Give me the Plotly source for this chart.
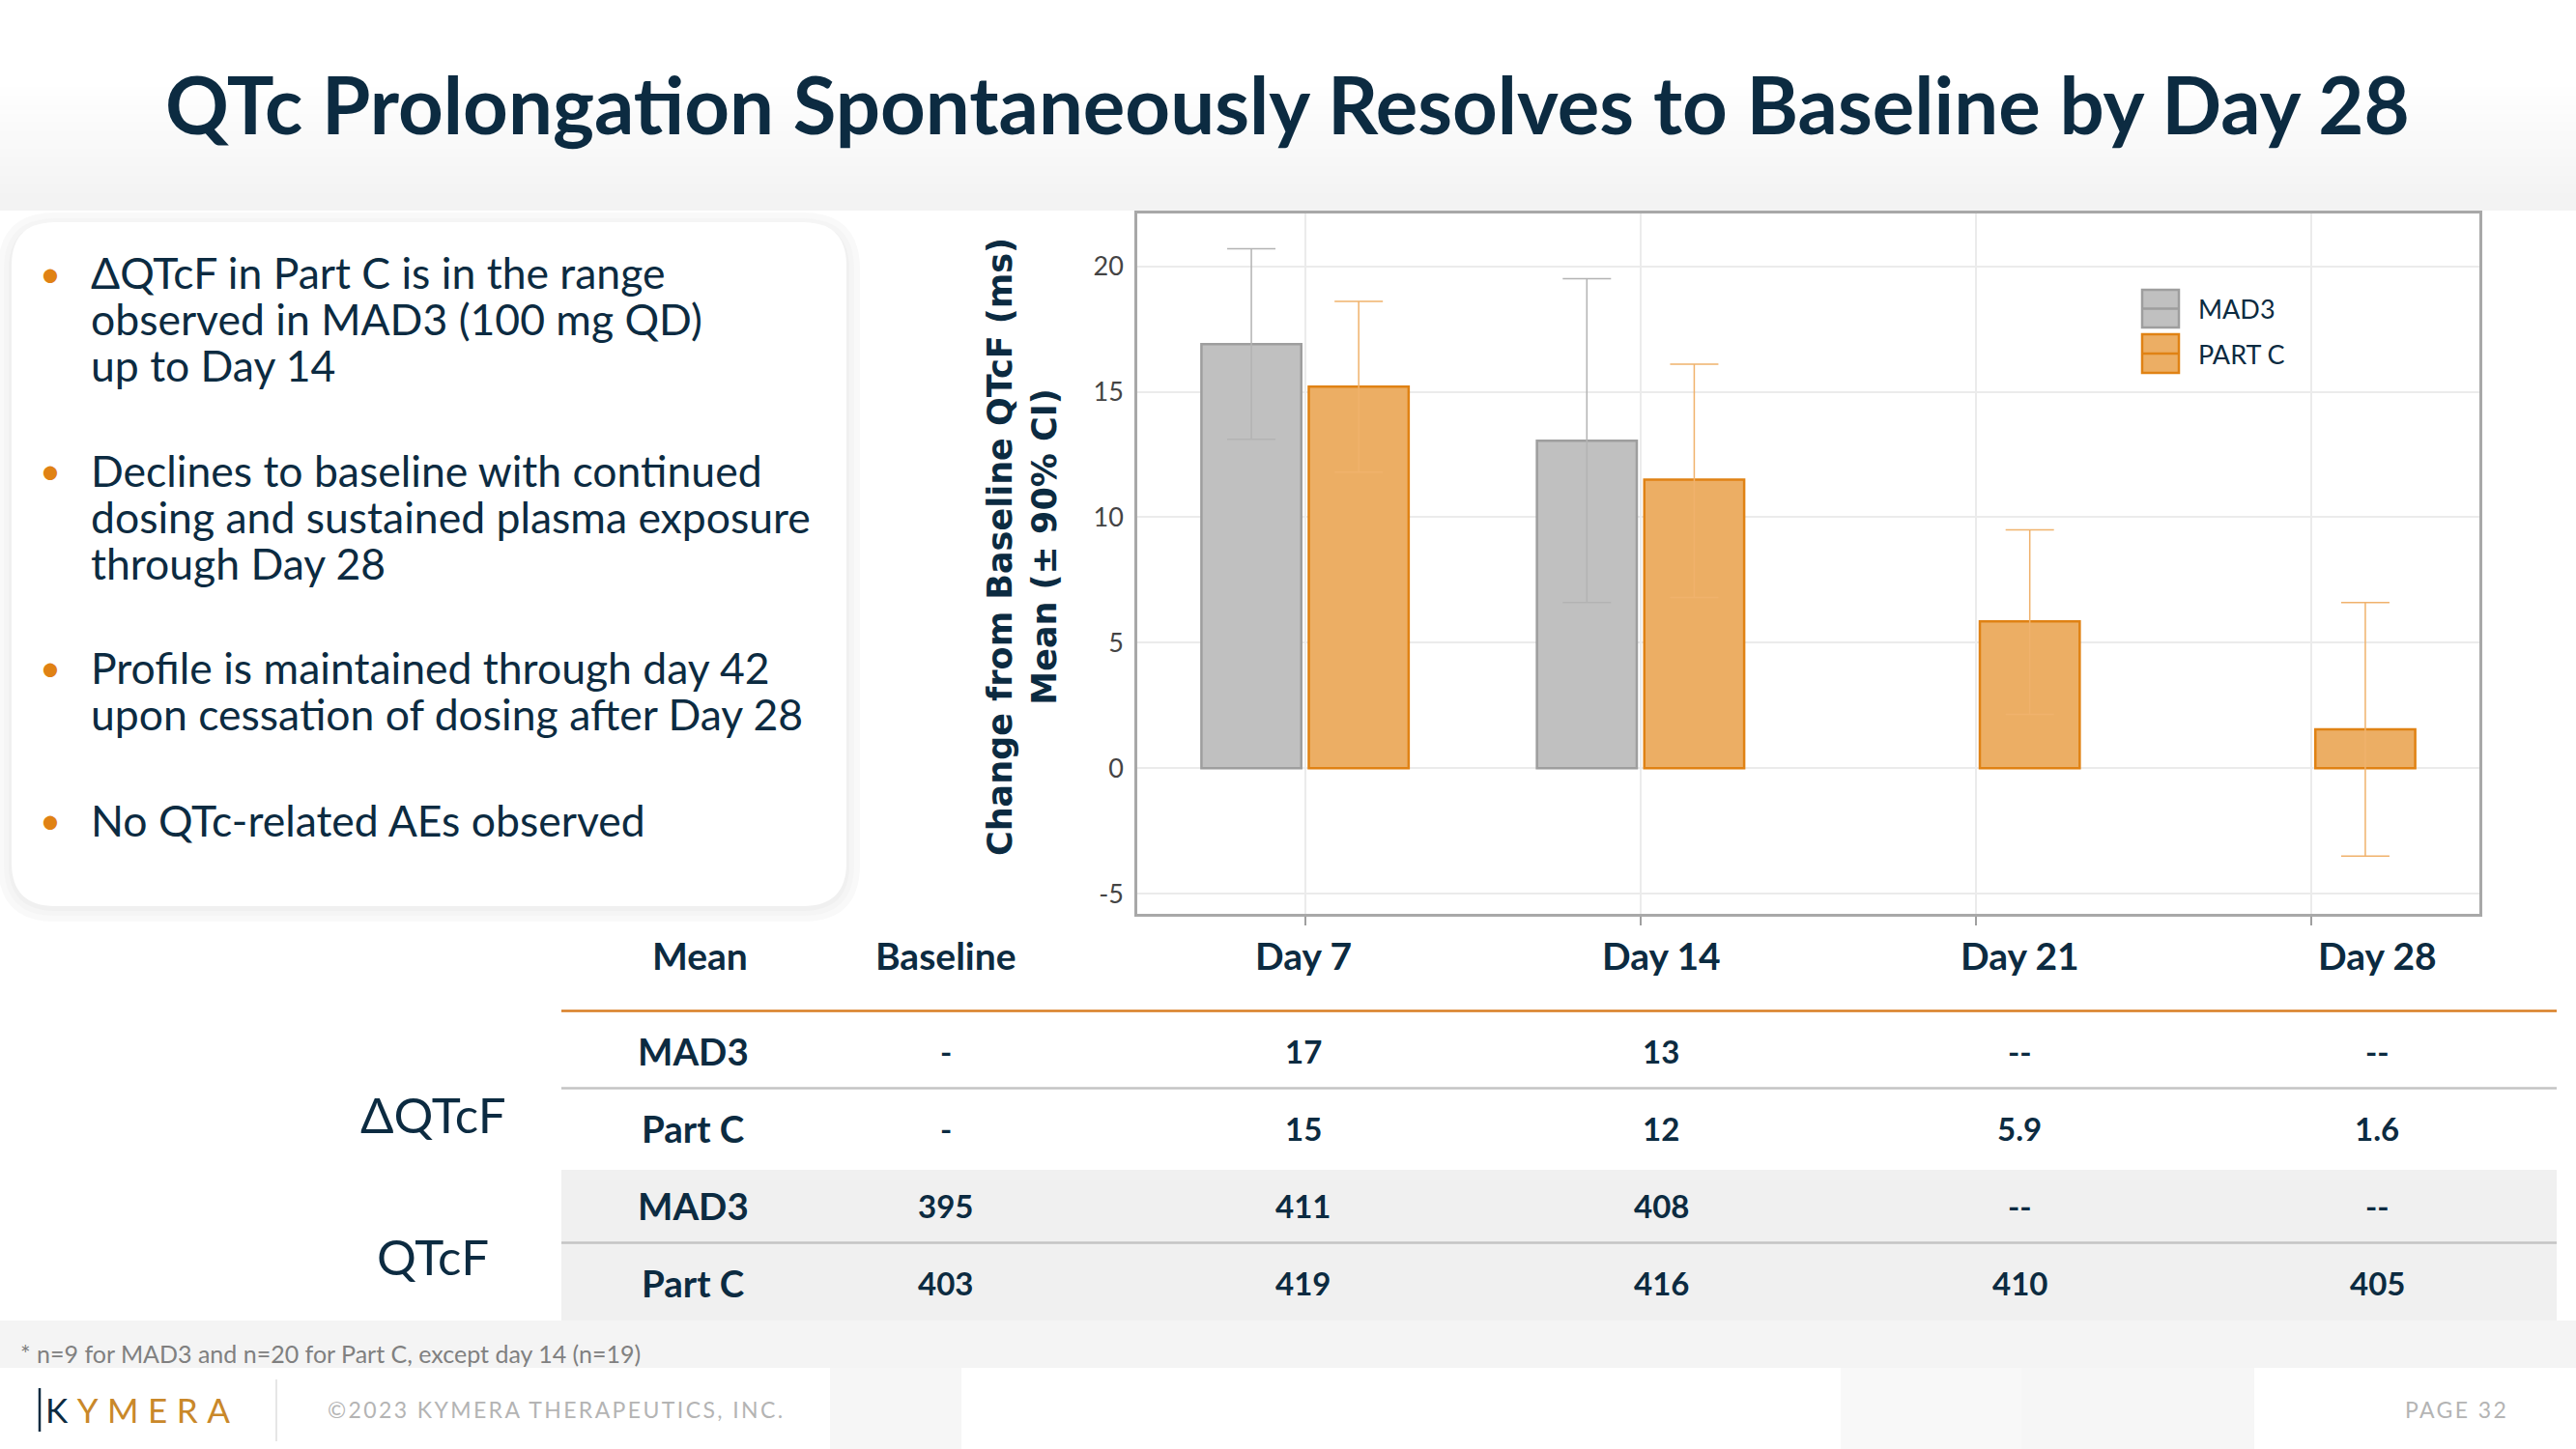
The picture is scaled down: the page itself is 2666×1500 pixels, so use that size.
import plotly.graph_objects as go

W, H = 2666, 1500

# ---------------- data ----------------
days = ["Day 7", "Day 14", "Day 21", "Day 28"]
mad3_mean = [16.9, 13.05, None, None]
mad3_upper = [20.7, 19.5, None, None]
mad3_lower = [13.1, 6.6, None, None]
partc_mean = [15.2, 11.5, 5.85, 1.55]
partc_upper = [18.6, 16.1, 9.5, 6.6]
partc_lower = [11.8, 6.8, 2.15, -3.5]
y_ticks = [-5, 0, 5, 10, 15, 20]
y_tick_labels = ["-5", "0", "5", "10", "15", "20"]
legend_names = ["MAD3", "PART C"]

title_text = "QTc Prolongation Spontaneously Resolves to Baseline by Day 28"
y_title_lines = ["Change from Baseline QTcF (ms)", "Mean (± 90% CI)"]
bullets = [
    ["ΔQTcF in Part C is in the range", "observed in MAD3 (100 mg QD)", "up to Day 14"],
    ["Declines to baseline with continued", "dosing and sustained plasma exposure", "through Day 28"],
    ["Profile is maintained through day 42", "upon cessation of dosing after Day 28"],
    ["No QTc-related AEs observed"],
]

table_columns = ["Mean", "Baseline", "Day 7", "Day 14", "Day 21", "Day 28"]
table_groups = ["ΔQTcF", "QTcF"]
table_row_labels = ["MAD3", "Part C", "MAD3", "Part C"]
dqtcf_mad3 = ["-", "17", "13", "--", "--"]
dqtcf_partc = ["-", "15", "12", "5.9", "1.6"]
qtcf_mad3 = ["395", "411", "408", "--", "--"]
qtcf_partc = ["403", "419", "416", "410", "405"]
footnote = "* n=9 for MAD3 and n=20 for Part C, except day 14 (n=19)"

# ---------------- styles ----------------
NAVY = "#0c2b41"
ORANGE = "#e08214"
ORANGE_FILL = "#ecae64"
GRAY_FILL = "#c0c0c0"
GRAY_LINE = "#9e9e9e"


def X(px):
    return px / W


def Y(py):
    return 1 - py / H


def plus(mean, upper):
    return [None if m is None else u - m for m, u in zip(mean, upper)]


def minus(mean, lower):
    return [None if m is None else m - l for m, l in zip(mean, lower)]


fig = go.Figure()
fig.add_trace(go.Bar(
    x=days, y=mad3_mean, name=legend_names[0], showlegend=False,
    marker=dict(color=GRAY_FILL, line=dict(color=GRAY_LINE, width=2.5)),
    error_y=dict(type="data", symmetric=False, array=plus(mad3_mean, mad3_upper),
                 arrayminus=minus(mad3_mean, mad3_lower), color="#b3b3b3",
                 thickness=1.5, width=25),
))
fig.add_trace(go.Bar(
    x=days, y=partc_mean, name=legend_names[1], showlegend=False,
    marker=dict(color=ORANGE_FILL, line=dict(color=ORANGE, width=2.5)),
    error_y=dict(type="data", symmetric=False, array=plus(partc_mean, partc_upper),
                 arrayminus=minus(partc_mean, partc_lower), color="#f0b26c",
                 thickness=1.5, width=25),
))

shapes = []
annotations = []

# title band gradient
shapes.append(dict(type="rect", xref="paper", yref="paper", x0=0, x1=1, y0=Y(218), y1=1,
                   fillcolor="white", line_width=0, layer="below"))
n = 14
for i in range(n):
    y0 = 90 + i * (128 / n)
    y1 = y0 + 128 / n + 1
    g = int(255 - (255 - 243) * (i + 1) / n)
    shapes.append(dict(type="rect", xref="paper", yref="paper", x0=0, x1=1,
                       y0=Y(min(y1, 218)), y1=Y(y0),
                       fillcolor=f"rgb({g},{g},{g})", line_width=0, layer="below"))


def rounded(x0, y0, x1, y1, r):
    return (f"M {X(x0 + r)} {Y(y0)} L {X(x1 - r)} {Y(y0)} "
            f"Q {X(x1)} {Y(y0)} {X(x1)} {Y(y0 + r)} L {X(x1)} {Y(y1 - r)} "
            f"Q {X(x1)} {Y(y1)} {X(x1 - r)} {Y(y1)} L {X(x0 + r)} {Y(y1)} "
            f"Q {X(x0)} {Y(y1)} {X(x0)} {Y(y1 - r)} L {X(x0)} {Y(y0 + r)} "
            f"Q {X(x0)} {Y(y0)} {X(x0 + r)} {Y(y0)} Z")


# card shadow + card
for k, col in [(14, "#f9f9f9"), (8, "#f5f5f5"), (3, "#f0f0f0")]:
    shapes.append(dict(type="path", xref="paper", yref="paper",
                       path=rounded(12 - k, 230 - k + 4, 876 + k, 940 + k, 45 + k),
                       fillcolor=col, line_width=0, layer="below"))
shapes.append(dict(type="path", xref="paper", yref="paper",
                   path=rounded(12, 230, 876, 938, 45),
                   fillcolor="white", line_width=0, layer="below"))

# bullets
line_y = [[282, 330, 377], [486, 534, 582], [690, 739], [848]]
for lines, ys in zip(bullets, line_y):
    annotations.append(dict(x=X(52), y=Y(ys[0]), xref="paper", yref="paper", text="•",
                            showarrow=False, xanchor="center", yanchor="middle",
                            font=dict(family="Lato", size=38, color=ORANGE)))
    for t, yy in zip(lines, ys):
        annotations.append(dict(x=X(92), y=Y(yy), xref="paper", yref="paper", text=t,
                                showarrow=False, xanchor="left", yanchor="middle",
                                font=dict(family="Lato", size=44.5, color=NAVY)))

# title
annotations.append(dict(x=X(1332), y=Y(108), xref="paper", yref="paper",
                        text=f"<b>{title_text}</b>", showarrow=False,
                        xanchor="center", yanchor="middle",
                        font=dict(family="Lato", size=81.5, color=NAVY)))

# y-axis title (rotated)
annotations.append(dict(x=X(1058), y=Y(566), xref="paper", yref="paper",
                        text="<br>".join(f"<b>{t}</b>" for t in y_title_lines),
                        showarrow=False, textangle=-90, xanchor="center", yanchor="middle",
                        font=dict(family="DejaVu Sans", size=35, color=NAVY)))

# custom legend
leg = [(300, 339, GRAY_FILL, GRAY_LINE, legend_names[0]),
       (346, 386, ORANGE_FILL, ORANGE, legend_names[1])]
for y0, y1, fc, lc, name in leg:
    shapes.append(dict(type="rect", xref="paper", yref="paper", x0=X(2217), x1=X(2255),
                       y0=Y(y1), y1=Y(y0), fillcolor=fc, line=dict(color=lc, width=2.5)))
    shapes.append(dict(type="line", xref="paper", yref="paper", x0=X(2217), x1=X(2255),
                       y0=Y((y0 + y1) / 2), y1=Y((y0 + y1) / 2), line=dict(color=lc, width=2.5)))
    annotations.append(dict(x=X(2273), y=Y((y0 + y1) / 2), xref="paper", yref="paper",
                            text=name, showarrow=False, xanchor="left", yanchor="middle",
                            font=dict(family="Lato", size=27, color=NAVY)))

# table backgrounds and rules
TX0, TX1 = 581, 2646
shapes.append(dict(type="rect", xref="paper", yref="paper", x0=X(TX0), x1=X(TX1),
                   y0=Y(1367), y1=Y(1211), fillcolor="#f0f0f0", line_width=0, layer="below"))
shapes.append(dict(type="line", xref="paper", yref="paper", x0=X(TX0), x1=X(TX1),
                   y0=Y(1046.5), y1=Y(1046.5), line=dict(color="#d87e24", width=2.5)))
for yy in [1126.5, 1286.5]:
    shapes.append(dict(type="line", xref="paper", yref="paper", x0=X(TX0), x1=X(TX1),
                       y0=Y(yy), y1=Y(yy), line=dict(color="#c4c4c4", width=2.5)))

col_x = [724, 979, 1349, 1719, 2090, 2460]
for c, cx in zip(table_columns, col_x):
    annotations.append(dict(x=X(cx), y=Y(989), xref="paper", yref="paper", text=f"<b>{c}</b>",
                            showarrow=False, xanchor="center", yanchor="middle",
                            font=dict(family="Lato", size=39, color=NAVY)))
row_y = [1088, 1168, 1248, 1328]
row_vals = [dqtcf_mad3, dqtcf_partc, qtcf_mad3, qtcf_partc]
for lab, ry, vals in zip(table_row_labels, row_y, row_vals):
    annotations.append(dict(x=X(717), y=Y(ry), xref="paper", yref="paper", text=f"<b>{lab}</b>",
                            showarrow=False, xanchor="center", yanchor="middle",
                            font=dict(family="Lato", size=38.5, color=NAVY)))
    for v, cx in zip(vals, col_x[1:]):
        annotations.append(dict(x=X(cx), y=Y(ry), xref="paper", yref="paper", text=f"<b>{v}</b>",
                                showarrow=False, xanchor="center", yanchor="middle",
                                font=dict(family="Lato", size=33, color=NAVY)))
for g, gy in zip(table_groups, [1153, 1300]):
    annotations.append(dict(x=X(448), y=Y(gy), xref="paper", yref="paper", text=g,
                            showarrow=False, xanchor="center", yanchor="middle",
                            font=dict(family="Lato", size=51, color=NAVY)))

# footnote band + footer
shapes.append(dict(type="rect", xref="paper", yref="paper", x0=0, x1=1,
                   y0=Y(1416), y1=Y(1367), fillcolor="#f4f4f4", line_width=0, layer="below"))
for x0, x1, col in [(859, 995, "#f6f6f6"), (1905, 2092, "#f8f8f8"), (2092, 2333, "#f6f6f6")]:
    shapes.append(dict(type="rect", xref="paper", yref="paper", x0=X(x0), x1=X(x1),
                       y0=0, y1=Y(1416), fillcolor=col, line_width=0, layer="below"))
shapes.append(dict(type="line", xref="paper", yref="paper", x0=X(286), x1=X(286),
                   y0=Y(1492), y1=Y(1428), line=dict(color="#e6e6e6", width=2)))
shapes.append(dict(type="line", xref="paper", yref="paper", x0=X(41), x1=X(41),
                   y0=Y(1482), y1=Y(1437), line=dict(color=NAVY, width=2.5)))
annotations.append(dict(x=X(19), y=Y(1401), xref="paper", yref="paper", text=footnote,
                        showarrow=False, xanchor="left", yanchor="middle",
                        font=dict(family="Lato", size=25, color="#808080")))
annotations.append(dict(x=X(45), y=Y(1459), xref="paper", yref="paper",
                        text=(f"<span style='letter-spacing:9.5px'><span style='color:{NAVY}'>K</span>"
                              f"YMERA</span>"),
                        showarrow=False, xanchor="left", yanchor="middle",
                        font=dict(family="Lato", size=35, color="#c9882a")))
annotations.append(dict(x=X(337), y=Y(1459), xref="paper", yref="paper",
                        text="<span style='letter-spacing:2.4px'>©2023 KYMERA THERAPEUTICS, INC.</span>",
                        showarrow=False, xanchor="left", yanchor="middle",
                        font=dict(family="Lato", size=23, color="#b4b4b4")))
annotations.append(dict(x=X(2598), y=Y(1459), xref="paper", yref="paper",
                        text="<span style='letter-spacing:2.4px'>PAGE 32</span>",
                        showarrow=False, xanchor="right", yanchor="middle",
                        font=dict(family="Lato", size=23, color="#b4b4b4")))

fig.update_layout(
    width=W, height=H, autosize=False,
    margin=dict(l=0, r=0, t=0, b=0),
    paper_bgcolor="white", plot_bgcolor="white",
    barmode="group", bargap=0.36, bargroupgap=0.07,
    showlegend=False,
    shapes=shapes, annotations=annotations,
    xaxis=dict(domain=[X(1177), X(2566)], type="category", range=[-0.5, 3.5],
               showticklabels=False, ticks="outside", ticklen=9, tickwidth=2,
               tickcolor="#a0a0a0", showgrid=True, gridcolor="#ebebeb", gridwidth=1.5,
               showline=True, linecolor="#a8a8a8", linewidth=2.5, mirror=True),
    yaxis=dict(domain=[Y(946), Y(221)], range=[-5.8, 22.1], tickvals=y_ticks,
               ticktext=y_tick_labels,
               tickfont=dict(family="Lato", size=27, color="#444444"),
               showgrid=True, gridcolor="#ebebeb", gridwidth=1.5, zeroline=False,
               showline=True, linecolor="#a8a8a8", linewidth=2.5, mirror=True,
               ticks="", ticklabelstandoff=6),
)

fig.write_html("out.html", config={"displayModeBar": False},
               post_script="document.body.style.margin='0';")
